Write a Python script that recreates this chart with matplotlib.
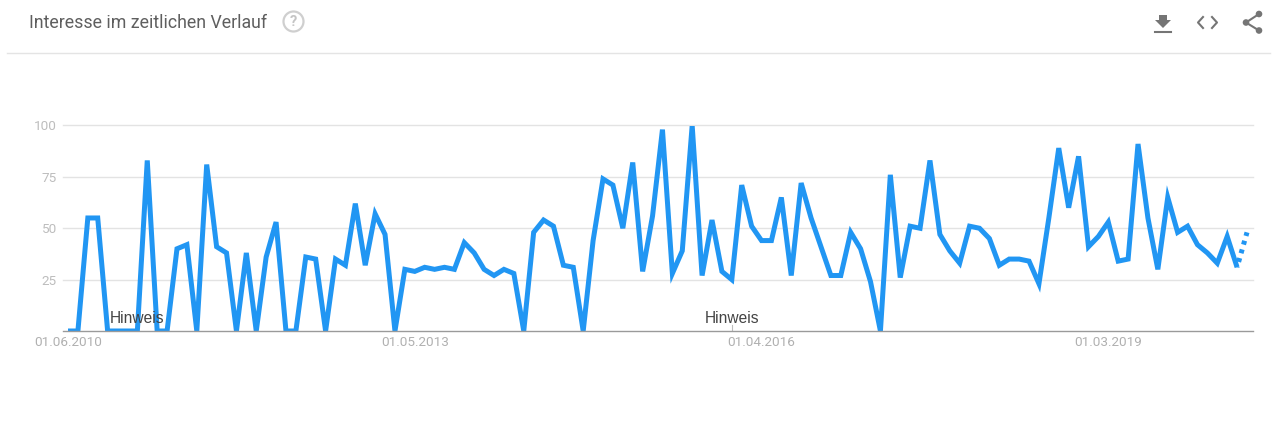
#!/usr/bin/env python3
"""Google Trends style chart: Interesse im zeitlichen Verlauf."""

import matplotlib
matplotlib.use("Agg")
import matplotlib.pyplot as plt
from matplotlib.patches import Circle, Polygon

WIDTH, HEIGHT = 1277, 426

# monthly values, the last one is the partial (dotted) month
values = [
    0, 0, 55, 55, 0, 0, 0, 0, 83, 0,
    0, 40, 42, 0, 81, 41, 38, 0, 38, 0,
    36, 53, 0, 0, 36, 35, 0, 35, 32, 62,
    32, 57, 47, 0, 30, 29, 31, 30, 31, 30,
    43, 38, 30, 27, 30, 28, 0, 48, 54, 51,
    32, 31, 0, 44, 74, 71, 50, 82, 29, 56,
    98, 28, 39, 100, 27, 54, 29, 25, 71, 51,
    44, 44, 65, 27, 72, 55, 41, 27, 27, 48,
    40, 24, 0, 76, 26, 51, 50, 83, 47, 39,
    33, 51, 50, 45, 32, 35, 35, 34, 23, 55,
    89, 60, 85, 41, 46, 53, 34, 35, 91, 55,
    30, 65, 48, 51, 42, 38, 33, 46, 31, 48,
]
y_ticks = [25, 50, 75, 100]
date_positions = [0, 35, 70, 105]
date_labels = ["01.06.2010", "01.05.2013", "01.04.2016", "01.03.2019"]
note_positions = [7, 67]
note_label = "Hinweis"
title = "Interesse im zeitlichen Verlauf"


def main():
    plt.rcParams["font.family"] = ["Roboto", "DejaVu Sans"]
    fig = plt.figure(figsize=(WIDTH / 100, HEIGHT / 100), dpi=100, facecolor="white")

    # plot area in pixels: x 62.5..1252.5, y 125.5..331
    ax = fig.add_axes([62.5 / WIDTH, 1 - 331 / HEIGHT, 1190 / WIDTH, 205.5 / HEIGHT])
    x_per_px = 119 / 1179
    ax.set_xlim(-5.5 * x_per_px, 119 + 5.5 * x_per_px)
    ax.set_ylim(0, 100)

    n = len(values)
    blue = "#2196F3"
    ax.plot(range(n - 1), values[:-1], color=blue, lw=3.6, clip_on=True,
            solid_joinstyle="miter", solid_capstyle="butt", zorder=3)
    ax.plot(range(n - 2, n), values[-2:], color=blue, lw=3.6, clip_on=False,
            linestyle=(0.68, (0.8, 1.0)), dash_capstyle="butt", zorder=3)

    for spine in ["top", "right", "left"]:
        ax.spines[spine].set_visible(False)
    ax.spines["bottom"].set_color("#9a9a9a")
    ax.spines["bottom"].set_linewidth(1.0)
    ax.spines["bottom"].set_zorder(4)

    ax.set_yticks(y_ticks)
    ax.grid(axis="y", color="#e3e3e3", lw=1.0, clip_on=False)
    ax.set_axisbelow(True)
    ax.tick_params(axis="y", length=0, pad=4, labelsize=9.7, labelcolor="#bdbdbd")
    ax.set_xticks(date_positions)
    ax.set_xticklabels(date_labels)
    ax.tick_params(axis="x", length=0, pad=3.5, labelsize=9.7, labelcolor="#b0b0b0")

    # the "0" is not labelled, notes sit on the baseline
    for pos in note_positions:
        ax.plot([pos, pos], [0, 3], color="#bdbdbd", lw=0.8, zorder=1)
        ax.text(pos, 2.3, note_label, ha="center", va="bottom", fontsize=11.2,
                family="Liberation Sans", color="#444444", zorder=4)

    # header drawn in pixel coordinates
    top = fig.add_axes([0, 0, 1, 1], facecolor="none")
    top.set_xlim(0, WIDTH)
    top.set_ylim(HEIGHT, 0)
    top.axis("off")
    top.plot([7, 1270], [53, 53], color="#e4e4e4", lw=1.0)
    top.text(29, 22.5, title, ha="left", va="center", fontsize=12.8, color="#5f5f5f")

    top.add_patch(Circle((293.5, 21.5), 10, fill=False, ec="#cfcfcf", lw=1.6))
    top.text(293.5, 21.5, "?", ha="center", va="center", fontsize=10.5,
             color="#c4c4c4", fontweight="bold")

    # download
    icon = "#757575"
    top.add_patch(Polygon([(1159, 15), (1167, 15), (1167, 20), (1171, 20),
                           (1163, 28), (1155, 20), (1159, 20)], fc=icon, ec="none"))
    top.plot([1155, 1171], [32, 32], color=icon, lw=1.5)
    # embed
    top.plot([1203, 1198, 1203], [17, 22.5, 28], color=icon, lw=1.5)
    top.plot([1212, 1217, 1212], [17, 22.5, 28], color=icon, lw=1.5)
    # share
    top.plot([1259, 1246, 1259], [14, 22.5, 30.5], color=icon, lw=1.5)
    for cx, cy in [(1259, 14), (1246, 22.5), (1259, 30.5)]:
        top.add_patch(Circle((cx, cy), 3.3, fc=icon, ec="none"))

    fig.savefig("out.png", dpi=100)


if __name__ == "__main__":
    main()
